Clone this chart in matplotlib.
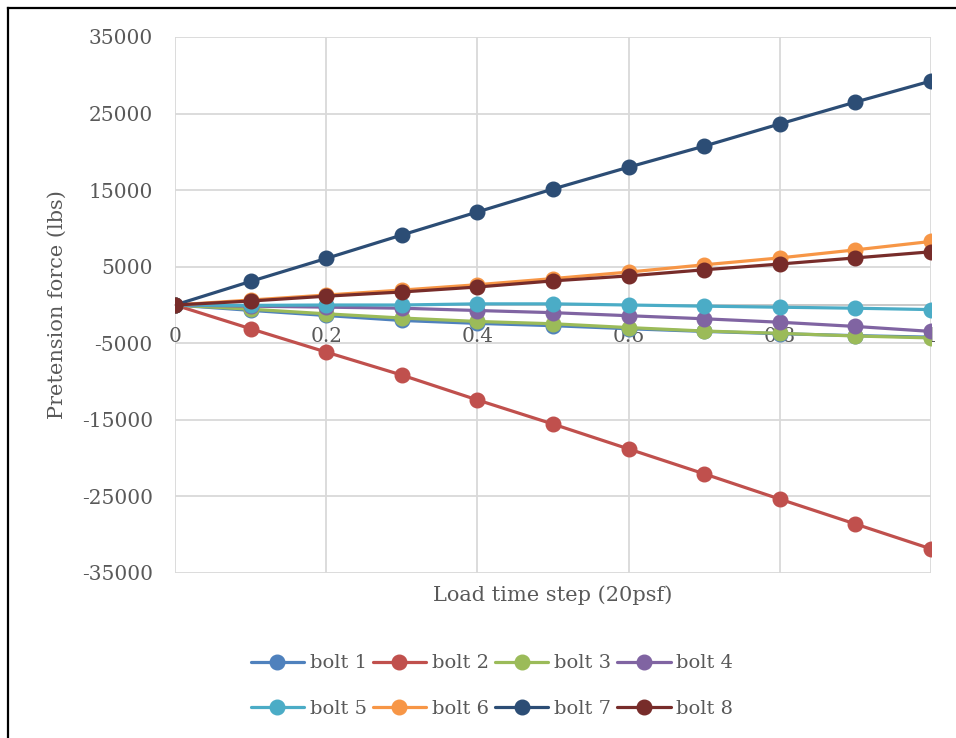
import matplotlib
matplotlib.use("Agg")
import matplotlib.pyplot as plt
from matplotlib.lines import Line2D
import numpy as np

steps = [0.0, 0.1, 0.2, 0.3, 0.4, 0.5, 0.6, 0.7, 0.8, 0.9, 1.0]
bolt1 = [0, -700, -1370, -2020, -2400, -2700, -3100, -3450, -3750, -4000, -4200]
bolt2 = [0, -3100, -6150, -9150, -12400, -15550, -18800, -22050, -25350, -28600, -31850]
bolt3 = [0, -550, -1150, -1700, -2150, -2450, -2950, -3400, -3700, -4050, -4300]
bolt4 = [0, -150, -280, -420, -720, -1000, -1400, -1800, -2250, -2800, -3450]
bolt5 = [0, -50, 0, 0, 150, 150, 0, -150, -290, -420, -600]
bolt6 = [0, 650, 1300, 1950, 2650, 3450, 4300, 5250, 6150, 7200, 8300]
bolt7 = [0, 3080, 6080, 9140, 12150, 15150, 18000, 20750, 23650, 26500, 29250]
bolt8 = [0, 520, 1150, 1700, 2350, 3150, 3800, 4600, 5350, 6150, 6950]

series_names = ["bolt 1", "bolt 2", "bolt 3", "bolt 4", "bolt 5", "bolt 6", "bolt 7", "bolt 8"]
series_vals = [bolt1, bolt2, bolt3, bolt4, bolt5, bolt6, bolt7, bolt8]
colors = ["#4F81BD", "#C0504D", "#9BBB59", "#8064A2", "#4BACC6", "#F79646", "#2C4D75", "#772C2A"]

xticks = [0, 0.2, 0.4, 0.6, 0.8, 1.0]
xticklabels = ["0", "0.2", "0.4", "0.6", "0.8", "1"]
yticks = [-35000, -25000, -15000, -5000, 5000, 15000, 25000, 35000]

W, H = 956, 738
fig = plt.figure(figsize=(W / 100, H / 100), dpi=100)
ax = fig.add_axes([175 / W, 1 - 573 / H, (931 - 175) / W, (573 - 37) / H])

txt = "#595959"
grid = "#D9D9D9"
font = "DejaVu Serif"

handles = []
for name, vals, c in zip(series_names, series_vals, colors):
    h, = ax.plot(steps, vals, color=c, lw=2.3, marker="o", markersize=10.5, label=name,
                 solid_capstyle="round", zorder=3)
    handles.append(h)

for s in ["left", "right", "top"]:
    ax.spines[s].set_visible(False)
ax.spines["bottom"].set_position(("data", 0))
ax.spines["bottom"].set_color("#BFBFBF")
ax.spines["bottom"].set_linewidth(1.2)
ax.spines["bottom"].set_zorder(1)

ax.set_xlim(0, 1)
ax.set_ylim(-35000, 35000)
ax.set_yticks(yticks)
ax.set_yticklabels([str(v) for v in yticks], fontsize=14.5, color=txt, family=font)
ax.set_xticks(xticks)
ax.set_xticklabels(xticklabels, fontsize=14.5, color=txt, family=font)
ax.tick_params(axis="both", length=0)
ax.tick_params(axis="y", pad=16)
ax.tick_params(axis="x", pad=16)

ax.grid(True, color=grid, lw=1.3, zorder=0)
ax.set_axisbelow(True)

ax.set_ylabel("Pretension force (lbs)", fontsize=15, color=txt, family=font)
ax.yaxis.set_label_coords((67 - 175) / (931 - 175), 0.5)
fig.text(553 / W, 1 - 595 / H, "Load time step (20psf)", fontsize=15, color=txt,
         family=font, ha="center", va="center")

order = [0, 4, 1, 5, 2, 6, 3, 7]
leg = fig.legend([handles[i] for i in order], [series_names[i] for i in order],
                 loc="center", bbox_to_anchor=(492 / W, 1 - 686 / H), ncol=4,
                 frameon=False, prop={"family": font, "size": 14},
                 handlelength=2.75, handletextpad=0.3, columnspacing=0.3,
                 labelspacing=1.4)
for t in leg.get_texts():
    t.set_color(txt)

fig.add_artist(Line2D([7.5 / W, 7.5 / W], [0, 1 - 7.5 / H], color="black", lw=1.6,
                      transform=fig.transFigure))
fig.add_artist(Line2D([7.5 / W, 1], [1 - 7.5 / H, 1 - 7.5 / H], color="black", lw=1.6,
                      transform=fig.transFigure))

fig.savefig("out.png", dpi=100)
